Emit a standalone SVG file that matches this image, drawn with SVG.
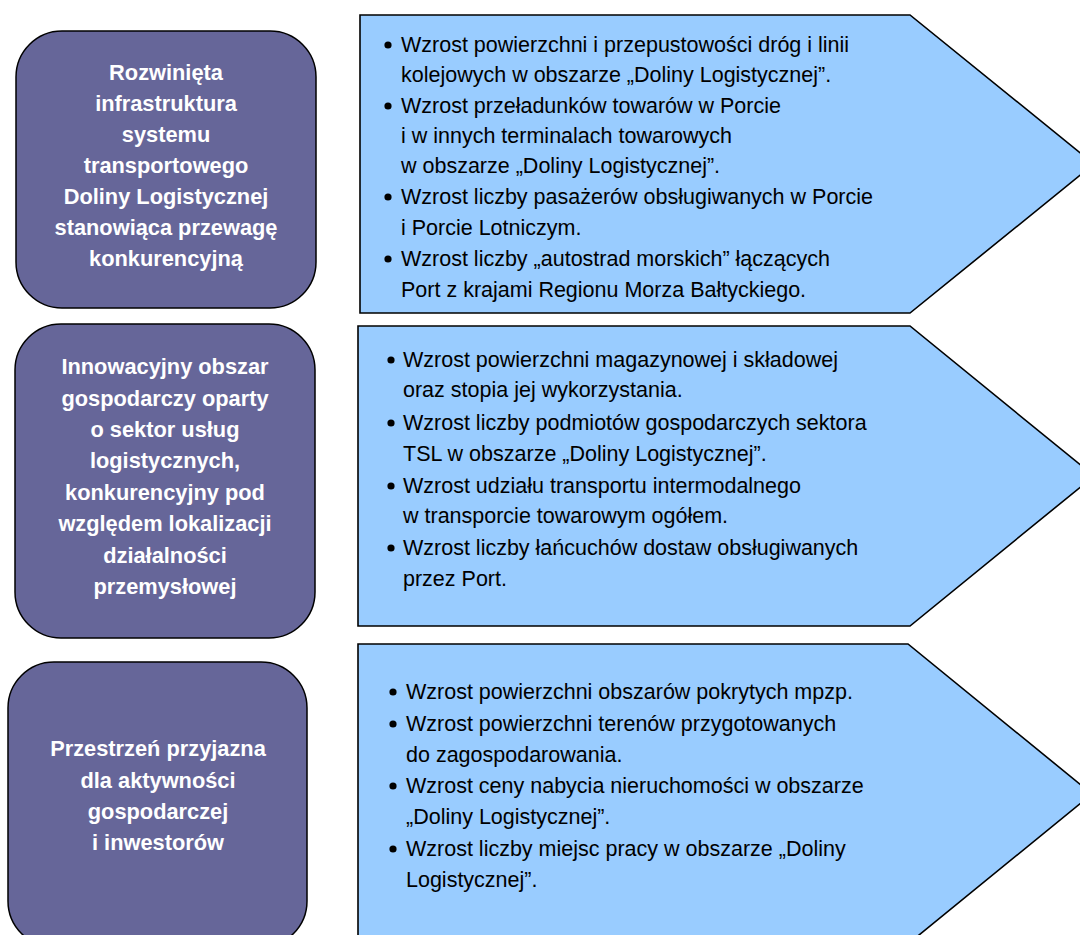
<svg xmlns="http://www.w3.org/2000/svg" width="1080" height="935" viewBox="0 0 1080 935">
<style>
.goal{fill:#666699;stroke:#000;stroke-width:1.5}
.arr{fill:#99CCFF;stroke:#000;stroke-width:1.6;stroke-linejoin:miter}
.gt{font-family:"Liberation Sans",Arial,sans-serif;font-weight:bold;font-size:21.8px;fill:#fff;text-anchor:middle}
.bt{font-family:"Liberation Sans",Arial,sans-serif;font-size:21.5px;fill:#000}
.dot{fill:#000}
</style>
<rect width="1080" height="935" fill="#fff"/>
<g id="connectors"></g>
<g id="goal1">
<rect class="goal" x="16" y="31" width="300" height="277" rx="46" ry="46"/>
<text class="gt"><tspan x="166" y="80">Rozwinięta</tspan><tspan x="166" y="111">infrastruktura</tspan><tspan x="166" y="142">systemu</tspan><tspan x="166" y="173">transportowego</tspan><tspan x="166" y="204">Doliny Logistycznej</tspan><tspan x="166" y="235">stanowiąca przewagę</tspan><tspan x="166" y="266">konkurencyjną</tspan></text>
</g>
<g id="goal2">
<rect class="goal" x="15" y="324" width="300" height="314" rx="46" ry="46"/>
<text class="gt"><tspan x="165" y="374">Innowacyjny obszar</tspan><tspan x="165" y="406">gospodarczy oparty</tspan><tspan x="165" y="437">o sektor usług</tspan><tspan x="165" y="468">logistycznych,</tspan><tspan x="165" y="500">konkurencyjny pod</tspan><tspan x="165" y="531">względem lokalizacji</tspan><tspan x="165" y="563">działalności</tspan><tspan x="165" y="594">przemysłowej</tspan></text>
</g>
<g id="goal3">
<rect class="goal" x="8" y="662" width="299" height="285" rx="46" ry="46"/>
<text class="gt"><tspan x="158" y="756">Przestrzeń przyjazna</tspan><tspan x="158" y="788">dla aktywności</tspan><tspan x="158" y="819">gospodarczej</tspan><tspan x="158" y="850">i inwestorów</tspan></text>
</g>
<g id="ind1">
<polygon class="arr" points="360,15 910,15 1094,164 910,313 360,313"/>
<circle class="dot" cx="388" cy="45" r="3.6"/>
<circle class="dot" cx="388" cy="106" r="3.6"/>
<circle class="dot" cx="388" cy="197" r="3.6"/>
<circle class="dot" cx="388" cy="259" r="3.6"/>
<text class="bt"><tspan x="401" y="52">Wzrost powierzchni i przepustowości dróg i linii</tspan><tspan x="401" y="82">kolejowych w obszarze „Doliny Logistycznej”.</tspan><tspan x="401" y="113">Wzrost przeładunków towarów w Porcie</tspan><tspan x="401" y="143">i w innych terminalach towarowych</tspan><tspan x="401" y="173">w obszarze „Doliny Logistycznej”.</tspan><tspan x="401" y="204">Wzrost liczby pasażerów obsługiwanych w Porcie</tspan><tspan x="401" y="235">i Porcie Lotniczym.</tspan><tspan x="401" y="266">Wzrost liczby „autostrad morskich” łączących</tspan><tspan x="401" y="297">Port z krajami Regionu Morza Bałtyckiego.</tspan></text>
</g>
<g id="ind2">
<polygon class="arr" points="358,326 910,326 1094,476 910,626 358,626"/>
<circle class="dot" cx="391" cy="360" r="3.6"/>
<circle class="dot" cx="391" cy="423" r="3.6"/>
<circle class="dot" cx="391" cy="486" r="3.6"/>
<circle class="dot" cx="391" cy="548" r="3.6"/>
<text class="bt"><tspan x="403" y="367">Wzrost powierzchni magazynowej i składowej</tspan><tspan x="403" y="397">oraz stopia jej wykorzystania.</tspan><tspan x="403" y="430">Wzrost liczby podmiotów gospodarczych sektora</tspan><tspan x="403" y="461">TSL w obszarze „Doliny Logistycznej”.</tspan><tspan x="403" y="493">Wzrost udziału transportu intermodalnego</tspan><tspan x="403" y="523">w transporcie towarowym ogółem.</tspan><tspan x="403" y="555">Wzrost liczby łańcuchów dostaw obsługiwanych</tspan><tspan x="403" y="586">przez Port.</tspan></text>
</g>
<g id="ind3">
<polygon class="arr" points="358,644 908,644 1092,794 908,944 358,944"/>
<circle class="dot" cx="393" cy="692" r="3.6"/>
<circle class="dot" cx="393" cy="724" r="3.6"/>
<circle class="dot" cx="393" cy="786" r="3.6"/>
<circle class="dot" cx="393" cy="849" r="3.6"/>
<text class="bt"><tspan x="406" y="699">Wzrost powierzchni obszarów pokrytych mpzp.</tspan><tspan x="406" y="731">Wzrost powierzchni terenów przygotowanych</tspan><tspan x="406" y="762">do zagospodarowania.</tspan><tspan x="406" y="793">Wzrost ceny nabycia nieruchomości w obszarze</tspan><tspan x="406" y="824">„Doliny Logistycznej”.</tspan><tspan x="406" y="856">Wzrost liczby miejsc pracy w obszarze „Doliny</tspan><tspan x="406" y="887">Logistycznej”.</tspan></text>
</g>
</svg>
